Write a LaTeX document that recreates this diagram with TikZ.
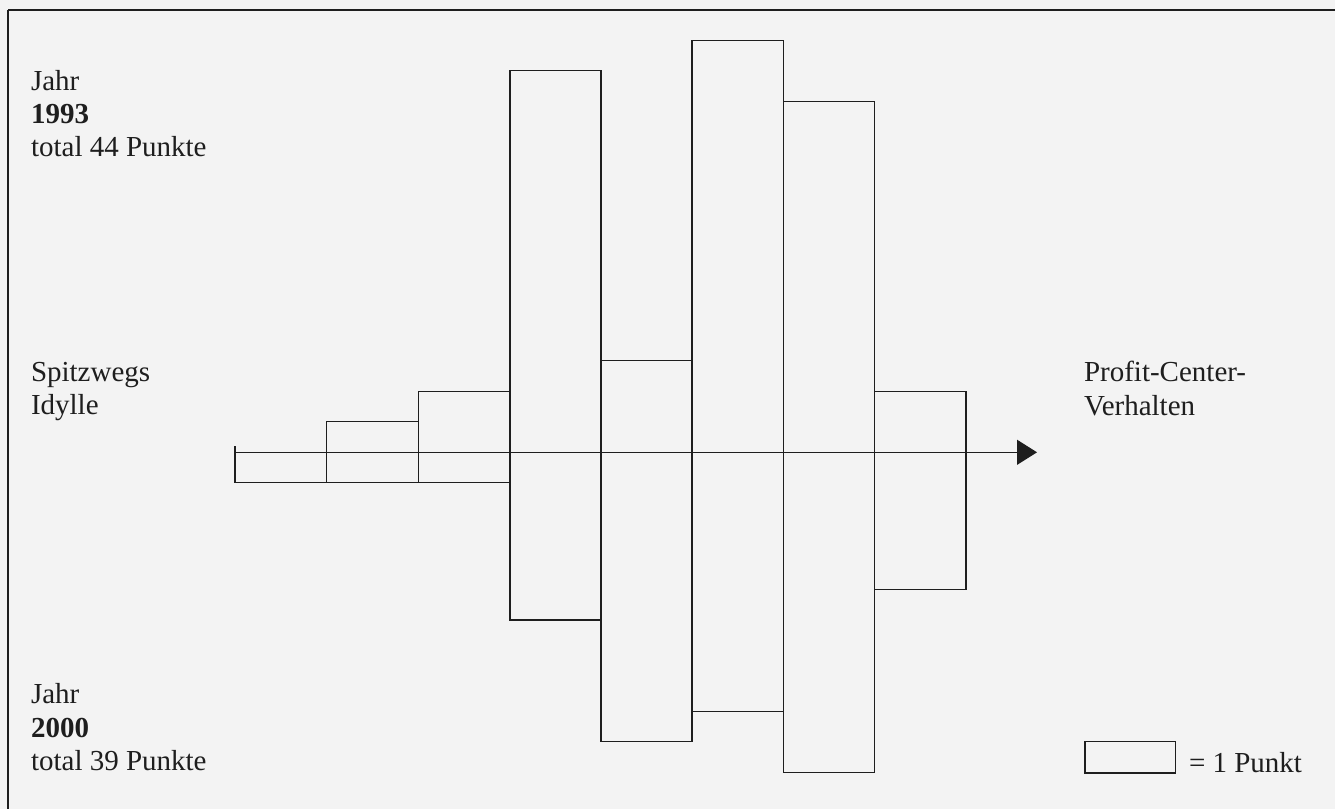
\documentclass[tikz,border=0pt]{standalone}
\usepackage{fontspec}
\setmainfont{Liberation Serif}
\usetikzlibrary{arrows.meta}
\definecolor{paper}{RGB}{243,243,243}
\definecolor{ink}{RGB}{30,30,30}
\tikzset{
  barline/.style={draw=ink, line width=1.2pt},
  frameline/.style={draw=ink, line width=1.6pt},
  lbl/.style={anchor=base west, inner sep=0pt, outer sep=0pt, text=ink,
              font=\fontsize{29}{33}\selectfont},
  axisline/.style={draw=ink, line width=1.2pt,
              -{Triangle[length=20pt,width=25pt]}}
}
\begin{document}
\begin{tikzpicture}[x=1pt,y=-1pt]
\fill[paper] (0,0) rectangle (1335,809);
\useasboundingbox (0,0) rectangle (1335,809);
% frame
\draw[frameline] (8,10) -- (1335,10);
\draw[frameline] (8,10) -- (8,809);
% upper histogram (1993)
\foreach \xa/\xb/\yt in {326.5/418.3/421.7, 418.3/510/391.7, 510/601/70.7,
    601/692/360.7, 692/783.3/40.7, 783.3/874.7/101.7, 874.7/966/391.7}
  \draw[barline] (\xa,452.3) rectangle (\xb,\yt);
% lower histogram (2000)
\foreach \xa/\xb/\yb in {235/326.5/482.3, 326.5/418.3/482.3, 418.3/510/482.3,
    510/601/620, 601/692/741.7, 692/783.3/711.7, 783.3/874.7/772.3, 874.7/966/589.3}
  \draw[barline] (\xa,452.3) rectangle (\xb,\yb);
\draw[barline] (235,446) -- (235,452.3);
% axis
\coordinate (axs) at (235,452.3);
\coordinate (axe) at (1037,452.3);
\draw[axisline] (axs) -- (axe);
% labels
\node[lbl] (j1) at (31,90.7) {Jahr};
\node[lbl] (y1) at (31,123.3) {\bfseries 1993};
\node[lbl] (t1) at (31,156.7) {total 44 Punkte};
\node[lbl] (s1) at (31,381.7) {Spitzwegs};
\node[lbl] (s2) at (31,414.8) {Idylle};
\node[lbl] (p1) at (1084,381.7) {Profit-Center-};
\node[lbl] (p2) at (1084,415) {Verhalten};
\node[lbl] (j2) at (31,703.3) {Jahr};
\node[lbl] (y2) at (31,737.3) {\bfseries 2000};
\node[lbl] (t2) at (31,770) {total 39 Punkte};
% legend
\draw[barline] (1085,741.3) rectangle (1175.7,773);
\node[lbl] (lg) at (1189,772.3) {= 1 Punkt};
\end{tikzpicture}
\end{document}
